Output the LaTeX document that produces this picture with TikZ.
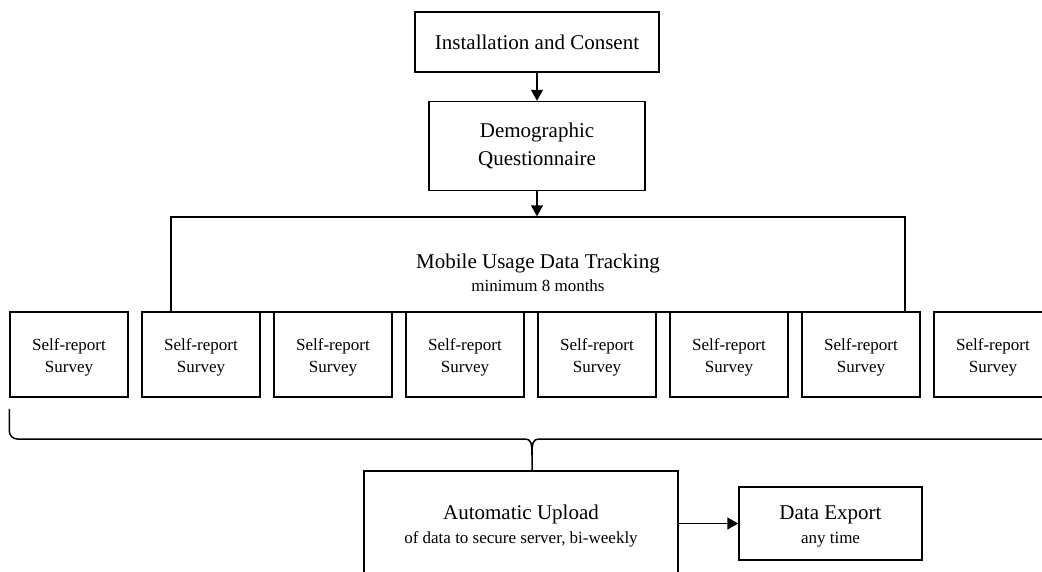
\documentclass[tikz,border=0pt]{standalone}
\usepackage{fontspec}
\setmainfont{Liberation Serif}
\usetikzlibrary{arrows.meta,calc}

\newcommand{\mainsize}{\fontsize{21}{28}\selectfont}
\newcommand{\subsize}{\fontsize{17}{22}\selectfont}

\tikzset{
  box/.style={draw, line width=1.5pt, inner sep=0pt, align=center},
  flow/.style={line width=1.5pt, -{Triangle[length=11pt,width=12pt]}},
  brace/.style={line width=1.5pt},
  survey/.style={box, minimum width=118pt, minimum height=85pt},
  title/.style={anchor=base, inner sep=0pt, font=\mainsize},
  subtitle/.style={anchor=base, inner sep=0pt, font=\subsize},
}

\begin{document}
\begin{tikzpicture}[x=1pt, y=-1pt]
  \useasboundingbox (0,0) rectangle (1042,571);
  \clip (0,0) rectangle (1042,571);

  % top of the flow
  \node[box, minimum width=244pt, minimum height=60pt, font=\mainsize] (install) at (537,42) {Installation and Consent};
  \node[box, minimum width=216pt, minimum height=89pt, font=\mainsize] (demo) at (537,146) {Demographic\\Questionnaire};

  % tracking period
  \node[box, minimum width=734pt, minimum height=95pt] (track) at (538,264.5) {};
  \node[title] (tracktitle) at (538,268) {Mobile Usage Data Tracking};
  \node[subtitle] (tracksub) at (538,291) {minimum 8 months};

  % recurring surveys
  \foreach \k in {1,...,8} {
    \node[survey, fill=white] (s\k) at ({69+132*(\k-1)},354.5) {};
    \node[align=center, inner sep=0pt, font=\subsize] (s\k text) at ({69+132*(\k-1)},357) {Self-report\\Survey};
  }

  % upload and export
  \node[box, minimum width=314pt, minimum height=105pt] (upload) at (521,523.5) {};
  \node[title] (uploadtitle) at (521,519.5) {Automatic Upload};
  \node[subtitle] (uploadsub) at (521,543) {of data to secure server, bi-weekly};
  \node[box, minimum width=183pt, minimum height=73pt] (export) at (830.5,523.5) {};
  \node[title] (exporttitle) at (830.5,519.5) {Data Export};
  \node[subtitle] (exportsub) at (830.5,543) {any time};

  % connectors
  \draw[flow] (install.south) -- (demo.north);
  \draw[flow] (demo.south) -- (demo.south |- track.north);
  \draw[flow] (upload.east) -- (export.west);

  % brace gathering all surveys into the upload
  \coordinate (bl) at ($(s1.south west)+(0,11)$);
  \coordinate (br) at ($(s8.south east)+(0,11)$);
  \coordinate (tip) at (532,439);
  \draw[brace] (bl) -- ++(0,22) to[out=-90,in=180] ($(bl |- tip)+(8,0)$)
    -- ($(tip)+(-7,0)$) .. controls ($(tip)+(-1,0)$) and ($(tip)+(0,4)$) .. ($(tip)+(0,16)$)
    -- (tip |- upload.north);
  \draw[brace] ($(tip)+(0,16)$) .. controls ($(tip)+(0,4)$) and ($(tip)+(1,0)$) .. ($(tip)+(7,0)$)
    -- ($(br |- tip)+(-8,0)$) to[out=0,in=-90] ($(br)+(0,22)$) -- (br);
\end{tikzpicture}
\end{document}
